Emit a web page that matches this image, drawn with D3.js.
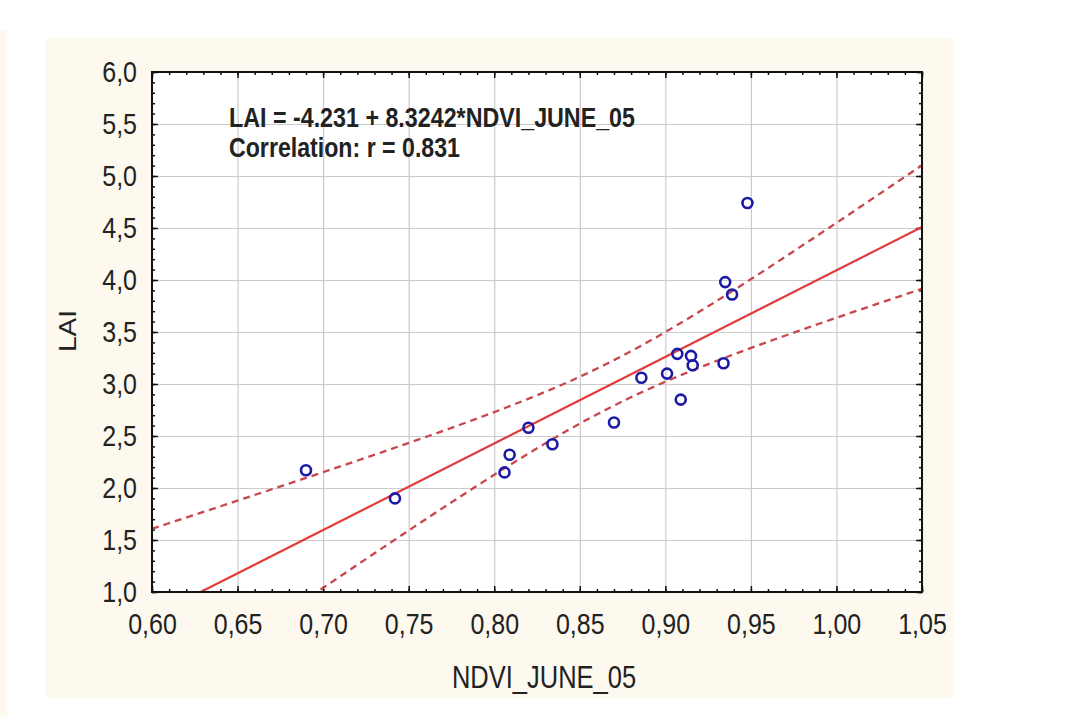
<!DOCTYPE html>
<html lang="en">
<head>
<meta charset="utf-8">
<title>LAI vs NDVI_JUNE_05</title>
<script src="https://d3js.org/d3.v7.min.js"></script>
<style>
  body { margin: 0; background: #ffffff; }
  svg { display: block; }
  text { font-family: "Liberation Sans", Arial, sans-serif; fill: #222; }
  .grid line { stroke: #cbcbcb; stroke-width: 1.2; }
  .grid path { display: none; }
  .ticks line { stroke: #111; stroke-width: 1.5; }
  .ticks path { display: none; }
  .lbl text { font-size: 25px; }
</style>
</head>
<body>
<script>
// data
var ndvi = [0.690, 0.742, 0.806, 0.809, 0.820, 0.834, 0.870, 0.886, 0.901,
            0.907, 0.909, 0.915, 0.916, 0.934, 0.935, 0.939, 0.948];
var lai  = [2.17, 1.90, 2.15, 2.32, 2.58, 2.42, 2.63, 3.06, 3.10,
            3.29, 2.85, 3.27, 3.18, 3.20, 3.98, 3.86, 4.74];
var xTicks = [0.60, 0.65, 0.70, 0.75, 0.80, 0.85, 0.90, 0.95, 1.00, 1.05];
var yTicks = [1.0, 1.5, 2.0, 2.5, 3.0, 3.5, 4.0, 4.5, 5.0, 5.5, 6.0];
var intercept = -4.231, slope = 8.3242, corr = 0.831;
var tCrit = 2.131; // t(0.975, 15)

var W = 1069, H = 717;
var pL = 152, pR = 922, pT = 72, pB = 592;

var svg = d3.select("body").append("svg").attr("width", W).attr("height", H);

// cream panels
svg.append("rect").attr("x", 0).attr("y", 30).attr("width", 7).attr("height", H - 30).attr("fill", "#fdf9ef");
svg.append("rect").attr("x", 45).attr("y", 38).attr("width", 908).attr("height", 660).attr("fill", "#fdf9ef");
svg.append("rect").attr("x", pL).attr("y", pT).attr("width", pR - pL).attr("height", pB - pT).attr("fill", "#fff");

var x = d3.scaleLinear().domain([0.60, 1.05]).range([pL, pR]);
var y = d3.scaleLinear().domain([1.0, 6.0]).range([pB, pT]);

var fmtX = function(d) { return d3.format(".2f")(d).replace(".", ","); };
var fmtY = function(d) { return d3.format(".1f")(d).replace(".", ","); };

// grid
svg.append("g").attr("class", "grid").attr("transform", "translate(0," + pB + ")")
  .call(d3.axisBottom(x).tickValues(xTicks).tickSize(-(pB - pT)).tickFormat(""));
svg.append("g").attr("class", "grid").attr("transform", "translate(" + pL + ",0)")
  .call(d3.axisLeft(y).tickValues(yTicks).tickSize(-(pR - pL)).tickFormat(""));

// minor ticks
var xMinor = d3.range(60, 106).map(function(d) { return d / 100; });
var yMinor = d3.range(10, 61).map(function(d) { return d / 10; });
[[d3.axisBottom, pB], [d3.axisTop, pT]].forEach(function(a) {
  svg.append("g").attr("class", "ticks").attr("transform", "translate(0," + a[1] + ")")
    .call(a[0](x).tickValues(xMinor).tickSize(-3).tickFormat(""));
  svg.append("g").attr("class", "ticks").attr("transform", "translate(0," + a[1] + ")")
    .call(a[0](x).tickValues(xTicks).tickSize(-6).tickFormat(""));
});
[[d3.axisLeft, pL], [d3.axisRight, pR]].forEach(function(a) {
  svg.append("g").attr("class", "ticks").attr("transform", "translate(" + a[1] + ",0)")
    .call(a[0](y).tickValues(yMinor).tickSize(-3).tickFormat(""));
  svg.append("g").attr("class", "ticks").attr("transform", "translate(" + a[1] + ",0)")
    .call(a[0](y).tickValues(yTicks).tickSize(-6).tickFormat(""));
});

// tick labels
var xl = svg.append("g").attr("class", "lbl").attr("transform", "translate(0," + pB + ")")
  .call(d3.axisBottom(x).tickValues(xTicks).tickSize(0).tickFormat(fmtX));
xl.select(".domain").remove();
xl.selectAll("text").attr("y", null).attr("dy", null).attr("fill", "#222")
  .attr("transform", "translate(0,42) scale(1,1.15)");

var yl = svg.append("g").attr("class", "lbl").attr("transform", "translate(" + pL + ",0)")
  .call(d3.axisLeft(y).tickValues(yTicks).tickSize(0).tickFormat(fmtY));
yl.select(".domain").remove();
yl.selectAll("text").attr("x", null).attr("dy", null).attr("fill", "#222")
  .attr("transform", "translate(-15,9) scale(1,1.15)");

// regression line + confidence band, computed from the points
var n = ndvi.length;
var mx = d3.mean(ndvi);
var sxx = d3.sum(ndvi, function(v) { return (v - mx) * (v - mx); });
var sse = d3.sum(ndvi, function(v, i) { var r = lai[i] - (intercept + slope * v); return r * r; });
var s = Math.sqrt(sse / (n - 2));
var xs = d3.range(0, 101).map(function(i) { return 0.60 + i * 0.0045; });
var band = function(sign) {
  return xs.map(function(v) {
    var h = tCrit * s * Math.sqrt(1 / n + (v - mx) * (v - mx) / sxx);
    return [v, intercept + slope * v + sign * h];
  });
};

svg.append("clipPath").attr("id", "plot").append("rect")
  .attr("x", pL).attr("y", pT).attr("width", pR - pL).attr("height", pB - pT);
var g = svg.append("g").attr("clip-path", "url(#plot)");
var line = d3.line().x(function(d) { return x(d[0]); }).y(function(d) { return y(d[1]); });

g.append("path").datum([[0.60, intercept + slope * 0.60], [1.05, intercept + slope * 1.05]])
  .attr("d", line).attr("fill", "none").attr("stroke", "#e03c3c").attr("stroke-width", 2.2);
[1, -1].forEach(function(sg) {
  g.append("path").datum(band(sg)).attr("d", line).attr("fill", "none")
    .attr("stroke", "#c8464c").attr("stroke-width", 2.3).attr("stroke-dasharray", "7,5");
});

// points
svg.append("g").selectAll("circle").data(ndvi).enter().append("circle")
  .attr("cx", function(d) { return x(d); })
  .attr("cy", function(d, i) { return y(lai[i]); })
  .attr("r", 5).attr("fill", "none").attr("stroke", "#1a1aa6").attr("stroke-width", 2.6);

// frame
svg.append("rect").attr("x", pL).attr("y", pT).attr("width", pR - pL).attr("height", pB - pT)
  .attr("fill", "none").attr("stroke", "#111").attr("stroke-width", 2);

// annotation
svg.append("text").attr("transform", "translate(229,127) scale(1,1.18)")
  .attr("font-size", 23).attr("font-weight", "bold").attr("fill", "#111")
  .attr("textLength", 406).attr("lengthAdjust", "spacingAndGlyphs")
  .text("LAI = " + intercept + " + " + slope + "*NDVI_JUNE_05");
svg.append("text").attr("transform", "translate(229,157) scale(1,1.18)")
  .attr("font-size", 23).attr("font-weight", "bold").attr("fill", "#111")
  .attr("textLength", 231).attr("lengthAdjust", "spacingAndGlyphs")
  .text("Correlation: r = " + corr);

// axis titles
svg.append("text").attr("transform", "translate(544,688) scale(1,1.22)")
  .attr("text-anchor", "middle").attr("font-size", 25.5).attr("fill", "#222")
  .text("NDVI_JUNE_05");
svg.append("text").attr("transform", "translate(76,331) rotate(-90)")
  .attr("text-anchor", "middle").attr("font-size", 23).attr("fill", "#222")
  .attr("textLength", 42).attr("lengthAdjust", "spacingAndGlyphs")
  .text("LAI");
</script>
</body>
</html>
